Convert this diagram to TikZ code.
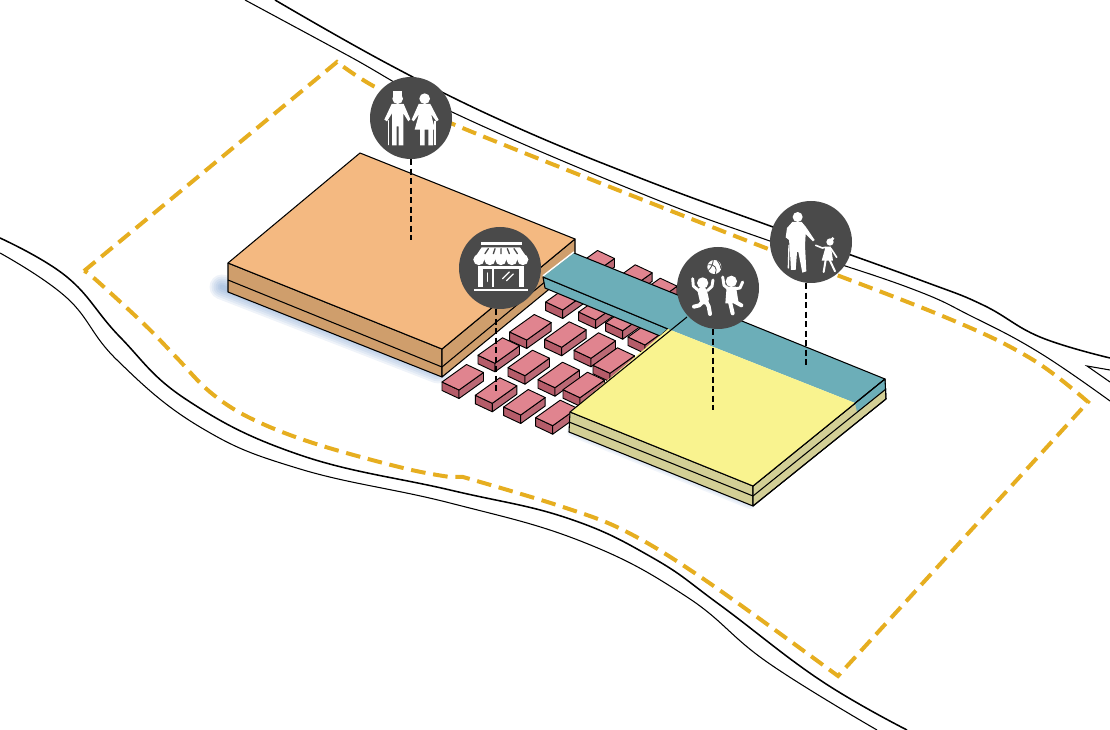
\documentclass[tikz,border=0pt]{standalone}
\definecolor{boundarygold}{HTML}{E6AE20}
\definecolor{orangetop}{HTML}{F4B981}
\definecolor{orangeside}{HTML}{CF9E6C}
\definecolor{yellowtop}{HTML}{F9F38F}
\definecolor{yellowside}{HTML}{D3CF96}
\definecolor{tealtop}{HTML}{6CAEB8}
\definecolor{bricktop}{HTML}{E0848F}
\definecolor{brickside}{HTML}{B55C69}
\definecolor{pindark}{HTML}{4A4A4A}
\definecolor{shadowblue}{HTML}{4F7FBF}
\tikzset{
  roadthick/.style={black,line width=1.15pt},
  roadthin/.style={black,line width=0.8pt},
  boundary/.style={boundarygold,line width=3pt,dash pattern=on 11pt off 5.8pt},
  slabline/.style={draw=black,line width=0.8pt,line join=round},
  brickline/.style={draw=black,line width=0.7pt,line join=round},
  leader/.style={black,line width=0.95pt,dash pattern=on 4.5pt off 2.6pt},
  pin/.style={circle,fill=pindark,draw=none,inner sep=0pt,minimum size=61.5pt},
  limb/.style={white,line cap=round,line join=round},
  glass/.style={pindark,line cap=round}
}
\begin{document}
\begin{tikzpicture}[x=0.75pt,y=-0.75pt]
  \useasboundingbox (0,0) rectangle (1110,730);

  \draw[roadthick] plot[smooth,tension=0.7] coordinates {(275,0) (390,65) (507,123) (640,178) (773,227) (920,280) (983,305) (1040,337) (1110,358)};
  \draw[roadthin] plot[smooth,tension=0.7] coordinates {(245,0) (347,55) (452,112) (640,193) (767,240) (907,287) (973,317) (1040,353) (1110,401)};
  \draw[roadthin] (1110,370) -- (1087,366) -- (1110,382);
  \draw[roadthick] plot[smooth,tension=0.7] coordinates {(0,238) (67,277) (120,337) (187,400) (300,455) (450,490) (567,518) (653,558) (720,605) (820,680) (907,730)};
  \draw[roadthin] plot[smooth,tension=0.7] coordinates {(0,253) (67,298) (117,360) (200,427) (300,469) (450,503) (583,542) (687,597) (767,662) (877,730)};

  \draw[boundary] (84,271) -- (337,62)
    -- plot[smooth,tension=0.6] coordinates {(337,62) (377,88) (460,127) (740,238) (940,315) (1030,358) (1088,402)}
    -- (838,676)
    -- plot[smooth,tension=0.6] coordinates {(838,676) (705,580) (627,532) (563,507) (463,477)}
    -- (450,477)
    -- plot[smooth,tension=0.6] coordinates {(450,477) (403,468) (313,443) (250,418) (210,392) (177,358) (145,325) (95,279) (84,271)};

  \foreach \w in {5,9,13,17,21,25}{
    \draw[shadowblue,opacity=0.09,line cap=round,line width=\w*0.75pt] (222,287) -- (438,371);
  }
  \foreach \w in {3,6,9,12}{
    \draw[shadowblue,opacity=0.08,line cap=round,line width=\w*0.75pt] (573,431) -- (750,503);
  }

  \filldraw[slabline,fill=orangeside] (228,263) -- (442,349) -- (442,377) -- (228,292) -- cycle;
  \filldraw[slabline,fill=orangeside] (442,349) -- (575,239) -- (575,268) -- (442,377) -- cycle;
  \draw[slabline] (228,280) -- (442,367) -- (575,257);
  \filldraw[slabline,fill=orangetop] (228,263) -- (360,153) -- (575,239) -- (442,349) -- cycle;

  \foreach \bx/\by in {590/276,627.7/290.3,652.7/303.7,562.7/310,595.7/320,622.7/330.7,645/345,526.7/340,561.7/347.3,591/358.3,610/373.3,495/363.3,525/375.7,555/387.7,580/397.7,459/390,492.3/403.3,520.7/415,552.7/425.7}{
    \filldraw[brickline,fill=brickside] (\bx,\by) -- ++(-17,-8) -- ++(0,8.5) -- ++(17,8) -- cycle;
    \filldraw[brickline,fill=brickside!92!white] (\bx,\by) -- ++(24.5,-17.5) -- ++(0,8.5) -- ++(-24.5,17.5) -- cycle;
    \filldraw[brickline,fill=bricktop] (\bx,\by) -- ++(24.5,-17.5) -- ++(-17,-8) -- ++(-24.5,17.5) -- cycle;
  }

  \draw[white,line width=1.2pt] (543,276) -- (574,252);
  \filldraw[slabline,fill=tealtop] (543,277) -- (545,288) -- (660,336) -- (668,329) -- cycle;
  \fill[tealtop] (543,277) -- (574,253) -- (885,379) -- (855,403) -- (668,329) -- cycle;
  \draw[slabline] (574,253) -- (885,379);
  \draw[slabline] (543,277) -- (668,329);

  \filldraw[slabline,fill=yellowside] (570,412) -- (753,486) -- (753,506) -- (569,432) -- cycle;
  \filldraw[slabline,fill=yellowside] (753,486) -- (885,379) -- (886,399) -- (753,506) -- cycle;
  \fill[tealtop] (855,403) -- (885,379) -- (886,389) -- (857,412) -- cycle;
  \draw[slabline] (569,422) -- (753,496) -- (886,389);
  \draw[slabline] (753,486) -- (885,379) -- (886,399) -- (753,506);
  \fill[yellowtop] (570,412) -- (668,329) -- (855,403) -- (753,486) -- cycle;
  \draw[slabline] (687,317) -- (570,412) -- (753,486) -- (885,379);

  \node[pin] (elderly) at (411,118) {};
  \node[pin] (shop) at (500,268) {};
  \node[pin] (kids) at (718,288) {};
  \node[pin] (family) at (811,242) {};
  \coordinate (elderlyend) at (411,240);
  \coordinate (shopend) at (496,393);
  \coordinate (kidsend) at (713,410);
  \coordinate (familyend) at (806,365);
  \draw[leader] (elderly.south -| elderlyend) -- (elderlyend);
  \draw[leader] (shop.south -| shopend) -- (shopend);
  \draw[leader] (kids.south -| kidsend) -- (kidsend);
  \draw[leader] (family.south -| familyend) -- (familyend);

  \begin{scope}[shift={(elderly)},x=0.25pt,y=-0.25pt]
    \fill[white] (-40,-58) circle (16);
    \fill[white] (-54,-80) rectangle (-26,-64);
    \fill[white] (-58,-42) -- (-22,-42) -- (-2,4) -- (-8,10) -- (-23,-14) -- (-23,82) -- (-37,82) -- (-37,25) -- (-43,25) -- (-43,82) -- (-57,82) -- (-57,-14) -- (-72,10) -- (-80,5) -- cycle;
    \draw[limb,line width=1pt] (-68,8) -- (-68,80);
    \fill[white] (41,-58) circle (16);
    \fill[white] (23,-42) -- (58,-42) -- (83,6) -- (76,10) -- (60,-12) -- (72,35) -- (66,35) -- (66,82) -- (52,82) -- (52,35) -- (41,35) -- (41,82) -- (27,82) -- (27,35) -- (11,35) -- (24,-12) -- (8,10) -- (2,5) -- cycle;
    \draw[limb,line width=1pt] (72,10) -- (72,80);
  \end{scope}

  \begin{scope}[shift={(shop)},x=0.25pt,y=-0.25pt]
    \fill[white] (-58,-77) rectangle (65,-68);
    \fill[white] (-66,-6) rectangle (71,58);
    \fill[pindark] (-52,3) rectangle (-24,57);
    \fill[pindark] (-17,3) rectangle (58,57);
    \fill[white] (-55,-62) -- (60,-62) -- (85,-25) -- (-80,-25) -- cycle;
    \foreach \sx in {-63.5,-30.5,2.5,35.5,68.5}{
      \fill[white] (\sx,-25) circle (16.5);
    }
    \draw[glass,line width=1pt] (-45,-43) -- (-35,-58) (-20,-43) -- (-15,-58) (3,-43) -- (3,-58) (28,-43) -- (22,-58) (52,-43) -- (42,-58);
    \draw[limb,line width=1.1pt] (-37,15) -- (-37,40);
    \draw[limb,line width=0.9pt] (8,32) -- (28,12) (20,38) -- (40,18);
    \fill[white] (-78,63) rectangle (83,69);
  \end{scope}

  \begin{scope}[shift={(kids)},x=0.25pt,y=-0.25pt]
    \fill[white] (-11,-63) circle (21);
    \draw[glass,line width=0.6pt] (-28,-70) .. controls (-12,-72) and (0,-60) .. (-8,-43) (-14,-84) .. controls (-16,-70) and (-20,-60) .. (-30,-52) (-2,-82) .. controls (6,-72) and (8,-64) .. (9,-58);
    \fill[white] (-46,-15) circle (17);
    \draw[limb,line width=7pt] (-47,10) -- (-41,36);
    \draw[limb,line width=2.2pt] (-58,8) -- (-74,-6) -- (-76,-28) (-32,8) -- (-18,-5) -- (-15,-24);
    \draw[limb,line width=3pt] (-45,40) -- (-56,52) -- (-72,56) (-36,40) -- (-28,55) -- (-24,78);
    \fill[white] (40,-20) circle (17);
    \fill[white] (26,-4) -- (54,-4) -- (62,46) -- (22,46) -- cycle;
    \draw[limb,line width=2.2pt] (30,2) -- (18,-8) -- (14,-33) (54,2) -- (66,0) -- (74,-18);
    \draw[limb,line width=3pt] (36,42) -- (44,76) (52,42) -- (70,52);
  \end{scope}

  \begin{scope}[shift={(family)},x=0.25pt,y=-0.25pt]
    \fill[white] (-40,-75) circle (15);
    \fill[white] (-56,-60) -- (-28,-60) -- (-16,-46) -- (11,-6) -- (6,-2) -- (-16,-24) -- (-18,10) -- (-14,88) -- (-26,92) -- (-38,30) -- (-42,30) -- (-46,84) -- (-60,84) -- (-64,15) -- (-66,-6) -- (-76,-14) -- (-72,-42) -- cycle;
    \draw[limb,line width=1pt] (-66,10) -- (-68,78);
    \fill[white] (57,0) circle (11);
    \fill[white] (65,-10) circle (5);
    \draw[limb,line width=1.2pt] (14,10) -- (34,18) -- (44,16) (60,20) -- (68,32) -- (77,46);
    \fill[white] (44,14) -- (60,14) -- (66,56) -- (32,56) -- cycle;
    \draw[limb,line width=1.5pt] (44,54) -- (38,90) (56,54) -- (72,88);
  \end{scope}
\end{tikzpicture}
\end{document}
